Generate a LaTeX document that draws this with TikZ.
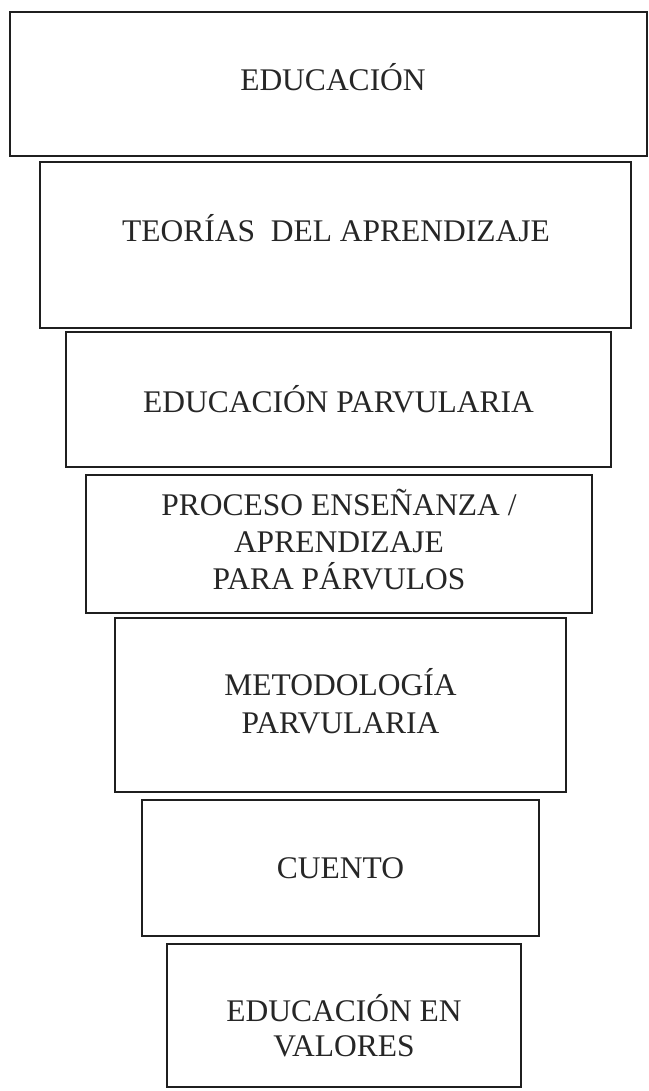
\documentclass[tikz,border=0pt]{standalone}
\usepackage{fontspec}
\setmainfont{Liberation Serif}
\begin{document}
\begin{tikzpicture}[x=1pt,y=-1pt,
  box/.style={draw=black!88,line width=1.5pt,inner sep=0pt,rectangle},
  txt/.style={anchor=base,inner sep=0pt,text=black!85,font=\fontsize{31.5}{37}\selectfont}]
\useasboundingbox (0,0) rectangle (648,1091);
% boxes
\node[box,minimum width=637pt,minimum height=144pt] (b1) at (328.5,84) {};
\node[box,minimum width=591pt,minimum height=166pt] (b2) at (335.5,245) {};
\node[box,minimum width=545pt,minimum height=135pt] (b3) at (338.5,399.5) {};
\node[box,minimum width=506pt,minimum height=138pt] (b4) at (339,544) {};
\node[box,minimum width=451pt,minimum height=174pt] (b5) at (340.5,705) {};
\node[box,minimum width=397pt,minimum height=136pt] (b6) at (340.5,868) {};
\node[box,minimum width=354pt,minimum height=143pt] (b7) at (344,1015.5) {};
% texts
\node[txt] (t1) at (333,91) {EDUCACIÓN};
\node[txt] (t2) at (336,241) {TEORÍAS\ \ DEL APRENDIZAJE};
\node[txt] (t3) at (338.5,412) {EDUCACIÓN PARVULARIA};
\node[txt] (t4a) at (339,515) {PROCESO ENSEÑANZA /};
\node[txt] (t4b) at (339,552) {APRENDIZAJE};
\node[txt] (t4c) at (339,589) {PARA PÁRVULOS};
\node[txt] (t5a) at (340.5,695) {METODOLOGÍA};
\node[txt] (t5b) at (340.5,733) {PARVULARIA};
\node[txt] (t6) at (340.5,878) {CUENTO};
\node[txt] (t7a) at (344,1021) {EDUCACIÓN EN};
\node[txt] (t7b) at (344,1056) {VALORES};
\end{tikzpicture}
\end{document}
